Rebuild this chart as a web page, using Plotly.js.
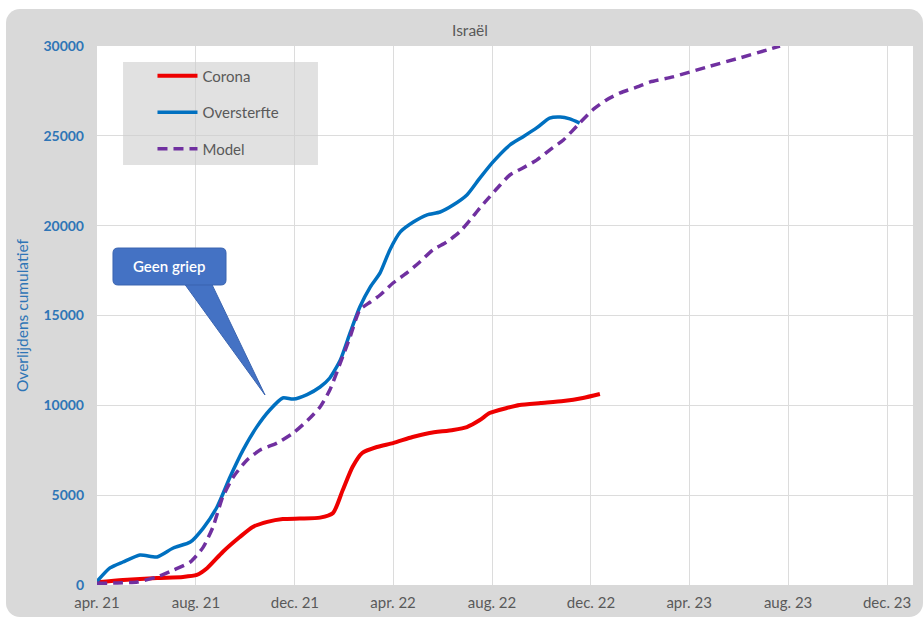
<!DOCTYPE html>
<html>
<head>
<meta charset="utf-8">
<script src="https://cdn.plot.ly/plotly-3.0.1.min.js"></script>
<style>
  html, body { margin: 0; padding: 0; background: #ffffff; }
  #chart { position: absolute; left: 6px; top: 9px; width: 917px; height: 608px;
           border-radius: 14px; overflow: hidden; }
</style>
</head>
<body>
<div id="chart"></div>
<script>
// ---- Data ----
const coronaDates = ['2021-04-01','2021-05-03','2021-06-14','2021-07-16','2021-08-02','2021-08-15','2021-09-03','2021-09-24','2021-10-10','2021-10-28','2021-11-16','2021-12-07','2022-01-01','2022-01-17','2022-01-29','2022-02-10','2022-02-22','2022-03-12','2022-04-01','2022-04-25','2022-05-16','2022-06-14','2022-07-01','2022-07-17','2022-07-29','2022-08-19','2022-09-04','2022-09-30','2022-10-28','2022-11-21','2022-12-12'];
const coronaValues = [150,280,390,450,560,950,1840,2670,3230,3510,3670,3700,3750,4010,5290,6570,7350,7680,7900,8240,8460,8630,8790,9180,9570,9850,10020,10130,10240,10410,10630];

const oversterfteDates = ['2021-04-01','2021-04-17','2021-05-03','2021-05-24','2021-06-14','2021-07-04','2021-07-25','2021-08-10','2021-08-27','2021-09-12','2021-09-28','2021-10-15','2021-10-31','2021-11-16','2021-11-29','2021-12-16','2022-01-01','2022-01-13','2022-01-26','2022-02-07','2022-02-19','2022-03-04','2022-03-16','2022-03-28','2022-04-10','2022-04-26','2022-05-13','2022-05-29','2022-06-14','2022-07-01','2022-07-17','2022-08-02','2022-08-23','2022-09-08','2022-09-25','2022-10-11','2022-10-24','2022-11-05','2022-11-17'];
const oversterfteValues = [200,950,1280,1670,1560,2060,2390,3170,4340,6010,7510,8800,9740,10410,10350,10600,11020,11520,12520,14030,15470,16590,17370,18650,19650,20200,20600,20760,21150,21710,22650,23540,24490,24940,25440,25990,26050,25940,25710];

const modelDates = ['2021-04-01','2021-04-26','2021-05-21','2021-06-14','2021-07-04','2021-07-25','2021-08-10','2021-08-22','2021-09-03','2021-09-16','2021-10-03','2021-10-19','2021-11-09','2021-11-29','2021-12-17','2022-01-01','2022-01-13','2022-01-26','2022-02-07','2022-02-19','2022-03-04','2022-03-16','2022-04-01','2022-04-18','2022-05-04','2022-05-20','2022-06-06','2022-06-22','2022-07-05','2022-07-17','2022-07-29','2022-08-11','2022-08-23','2022-09-08','2022-09-25','2022-10-11','2022-10-28','2022-11-17','2022-12-03','2022-12-20','2023-01-06','2023-01-27','2023-02-12','2023-03-12','2023-04-23','2023-06-02','2023-07-06','2023-07-22'];
const modelValues = [100,110,170,450,830,1280,2110,3230,4900,6010,6960,7510,7900,8460,9180,9910,10850,12360,13800,15310,15750,16140,16810,17370,17980,18650,19090,19650,20320,20980,21600,22260,22820,23210,23650,24210,24770,25710,26440,27000,27390,27720,28000,28280,28830,29330,29780,30000];

const tickDates = ['2021-04-01','2021-08-01','2021-12-01','2022-04-01','2022-08-01','2022-12-01','2023-04-01','2023-08-01','2023-12-01'];
const tickLabels = ['apr. 21','aug. 21','dec. 21','apr. 22','aug. 22','dec. 22','apr. 23','aug. 23','dec. 23'];
const seriesNames = ['Corona','Oversterfte','Model'];

const FONT = 'Lato, "Open Sans", sans-serif';
const GRAY = '#595959';

const traces = [
  { x: coronaDates, y: coronaValues, name: seriesNames[0], type: 'scatter', mode: 'lines',
    line: { color: '#ee0000', width: 4, shape: 'spline', smoothing: 0.6 }, legendgroup: 'a' },
  { x: oversterfteDates, y: oversterfteValues, name: seriesNames[1], type: 'scatter', mode: 'lines',
    line: { color: '#0070c0', width: 3.5, shape: 'spline', smoothing: 0.6 }, legendgroup: 'b' },
  { x: modelDates, y: modelValues, name: seriesNames[2], type: 'scatter', mode: 'lines',
    line: { color: '#7030a0', width: 3.5, dash: '10px,6px', shape: 'spline', smoothing: 0.6 }, legendgroup: 'c' }
];

const layout = {
  width: 917, height: 608,
  paper_bgcolor: '#d9d9d9', plot_bgcolor: '#ffffff',
  margin: { l: 91, r: 10, t: 37, b: 32 },
  font: { family: FONT, color: GRAY, size: 13 },
  title: { text: 'Israël', font: { family: FONT, size: 15.5, color: GRAY },
           xref: 'container', x: 0.506, xanchor: 'center', yref: 'container', y: 0.965, yanchor: 'middle' },
  showlegend: true,
  legend: { x: 0.068, xanchor: 'left', y: 0.975, yanchor: 'top', bgcolor: 'rgba(0,0,0,0)',
            font: { family: FONT, size: 15, color: GRAY }, tracegroupgap: 14, itemwidth: 40,
            traceorder: 'grouped' },
  xaxis: {
    type: 'date', range: ['2021-04-01', '2024-01-02'],
    tickmode: 'array', tickvals: tickDates, ticktext: tickLabels,
    showgrid: true, gridcolor: '#dcdcdc', gridwidth: 1, zeroline: false, showline: false,
    ticks: '', ticklabelstandoff: 7,
    tickfont: { family: FONT, size: 15, color: GRAY }
  },
  yaxis: {
    range: [0, 30000], tickmode: 'linear', tick0: 0, dtick: 5000,
    showgrid: true, gridcolor: '#dcdcdc', gridwidth: 1, zeroline: false, showline: false,
    ticks: '', ticklabelstandoff: 12, tickformat: 'd',
    tickfont: { family: FONT, size: 14, color: '#2e75b6', weight: 'bold' },
    title: { text: 'Overlijdens cumulatief', standoff: 10,
             font: { family: FONT, size: 15.5, color: '#2e75b6' } }
  },
  shapes: [
    // legend box
    { type: 'rect', xref: 'paper', yref: 'paper', x0: 0.0319, x1: 0.2708, y0: 0.7792, y1: 0.9703,
      fillcolor: 'rgba(205,205,205,0.6)', line: { width: 0 }, layer: 'above' },
    // callout pointer
    { type: 'path', xref: 'paper', yref: 'paper', layer: 'above',
      path: 'M 0.1042 0.565 L 0.2059 0.3525 L 0.1385 0.565 Z',
      fillcolor: '#4472c4', line: { color: '#3a64b0', width: 1 } },
    // callout box with rounded corners
    { type: 'path', xref: 'paper', yref: 'paper', layer: 'above',
      path: 'M 0.0257 0.5566 L 0.1520 0.5566 Q 0.1581 0.5566 0.1581 0.5659 L 0.1581 0.6159 Q 0.1581 0.6252 0.1520 0.6252 L 0.0257 0.6252 Q 0.0196 0.6252 0.0196 0.6159 L 0.0196 0.5659 Q 0.0196 0.5566 0.0257 0.5566 Z',
      fillcolor: '#4472c4', line: { color: '#3a64b0', width: 1 } }
  ],
  annotations: [
    { xref: 'paper', yref: 'paper', x: 0.0888, y: 0.591, text: 'Geen griep', showarrow: false,
      xanchor: 'center', yanchor: 'middle', font: { family: FONT, size: 15, color: '#ffffff', weight: 600 } }
  ]
};

Plotly.newPlot('chart', traces, layout, { displayModeBar: false, responsive: false });
</script>
</body>
</html>
